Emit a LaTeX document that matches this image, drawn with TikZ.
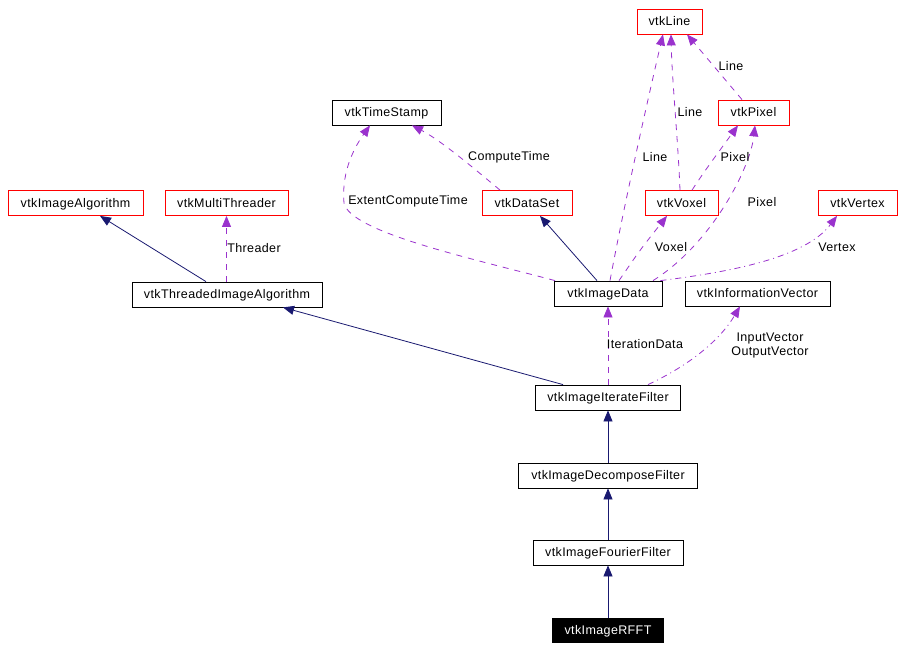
\documentclass[tikz,border=0pt]{standalone}
\usepackage{fontspec}
\setmainfont{Liberation Sans}[LetterSpace=3]
\usetikzlibrary{arrows.meta}
\definecolor{inhnavy}{HTML}{191970}
\definecolor{usepurple}{HTML}{9A32CD}
\begin{document}
\begin{tikzpicture}[x=1pt,y=-1pt,line width=0.8pt,
  cls/.style={draw,minimum height=25pt,inner sep=0pt,text height=8.8pt,text depth=0pt,font=\fontsize{12.5}{14}\selectfont},
  ext/.style={cls,draw=red},
  here/.style={cls,fill=black,text=white},
  inh/.style={draw=inhnavy,-{Triangle[length=11pt,width=9pt]}},
  use/.style={draw=usepurple,dash pattern=on 6pt off 6pt,-{Triangle[length=11pt,width=9pt]}},
  usedot/.style={use,dash pattern=on 6pt off 4pt on 1pt off 4pt},
  lbl/.style={font=\fontsize{12.5}{14}\selectfont,inner sep=0pt}]
\useasboundingbox (0,0) rectangle (903,650);

% classes
\node (line) at (669.5,21.5) [ext,minimum width=65pt] {vtkLine};
\node (tstamp) at (386.5,112.5) [cls,minimum width=109pt] {vtkTimeStamp};
\node (pixel) at (753.5,112.5) [ext,minimum width=71pt] {vtkPixel};
\node (ialg) at (75.5,203) [ext,minimum width=135pt] {vtkImageAlgorithm};
\node (mthr) at (226.5,203) [ext,minimum width=123pt] {vtkMultiThreader};
\node (dset) at (527,203) [ext,minimum width=90pt] {vtkDataSet};
\node (voxel) at (681.5,203) [ext,minimum width=73pt] {vtkVoxel};
\node (vertex) at (857.5,203) [ext,minimum width=79pt] {vtkVertex};
\node (thalg) at (227,294.5) [cls,minimum width=190pt] {vtkThreadedImageAlgorithm};
\node (idata) at (608,293.5) [cls,minimum width=108pt] {vtkImageData};
\node (ivec) at (757.5,293.5) [cls,minimum width=145pt] {vtkInformationVector};
\node (iter) at (608,397.5) [cls,minimum width=145pt] {vtkImageIterateFilter};
\node (decomp) at (608,475.5) [cls,minimum width=179pt] {vtkImageDecomposeFilter};
\node (fourier) at (608,552.5) [cls,minimum width=150pt] {vtkImageFourierFilter};
\node (rfft) at (608,630) [here,minimum width=111pt,minimum height=24pt] {vtkImageRFFT};

% inheritance
\draw [inh] ([xshift=-21pt]thalg.north) -- ([xshift=24.5pt]ialg.south);
\draw [inh] ([xshift=-45pt]iter.north) -- ([xshift=56pt]thalg.south);
\draw [inh] ([xshift=-11pt]idata.north) -- ([xshift=13pt]dset.south);
\draw [inh] (decomp.north) -- (iter.south);
\draw [inh] (fourier.north) -- (decomp.south);
\draw [inh] (rfft.north) -- (fourier.south);

% usage
\draw [use] ([xshift=-0.5pt]thalg.north) -- (mthr.south);
\draw [use] ([xshift=-53pt]idata.north) .. controls (470,258) and (350,232) .. (344,203)
  .. controls (341,170) and (356,145) .. ([xshift=-16.5pt]tstamp.south);
\draw [use] ([xshift=-27pt]dset.north) .. controls (470,165) and (440,140) .. ([xshift=25.5pt]tstamp.south);
\draw [use] ([xshift=2pt]idata.north) .. controls (625,200) and (650,90) .. ([xshift=-6.5pt]line.south);
\draw [use] ([xshift=-1.5pt]voxel.north) .. controls (678,140) and (672,80) .. ([xshift=1.5pt]line.south);
\draw [use] ([xshift=-11.5pt]pixel.north) -- ([xshift=17.5pt]line.south);
\draw [use] ([xshift=10.5pt]voxel.north) .. controls (704,172) .. ([xshift=-15.5pt]pixel.south);
\draw [use] ([xshift=45pt]idata.north) .. controls (710,245) and (750,170) .. ([xshift=1.5pt]pixel.south);
\draw [use] ([xshift=11pt]idata.north) .. controls (640,250) .. ([xshift=-14.5pt]voxel.south);
\draw [usedot] ([xshift=-2pt]idata.north east) .. controls (730,272) and (805,258) .. ([xshift=-20.5pt]vertex.south);
\draw [use] (iter.north) -- (idata.south);
\draw [usedot] ([xshift=40pt]iter.north) .. controls (690,365) and (720,340) .. ([xshift=-17.5pt]ivec.south);

% labels
\node (lthr) at (254,248) [lbl] {Threader};
\node (lect) at (408,201) [lbl] {ExtentComputeTime};
\node (lct) at (509,157) [lbl] {ComputeTime};
\node (lline1) at (655,157) [lbl] {Line};
\node (lline2) at (690,112) [lbl] {Line};
\node (lline3) at (731,66) [lbl] {Line};
\node (lpix1) at (735,157) [lbl] {Pixel};
\node (lpix2) at (762,202) [lbl] {Pixel};
\node (lvox) at (671,247) [lbl] {Voxel};
\node (lvtx) at (837,247) [lbl] {Vertex};
\node (liter) at (645,344) [lbl] {IterationData};
\node (lvec) at (770,345) [lbl,align=center] {InputVector\\OutputVector};
\end{tikzpicture}
\end{document}
